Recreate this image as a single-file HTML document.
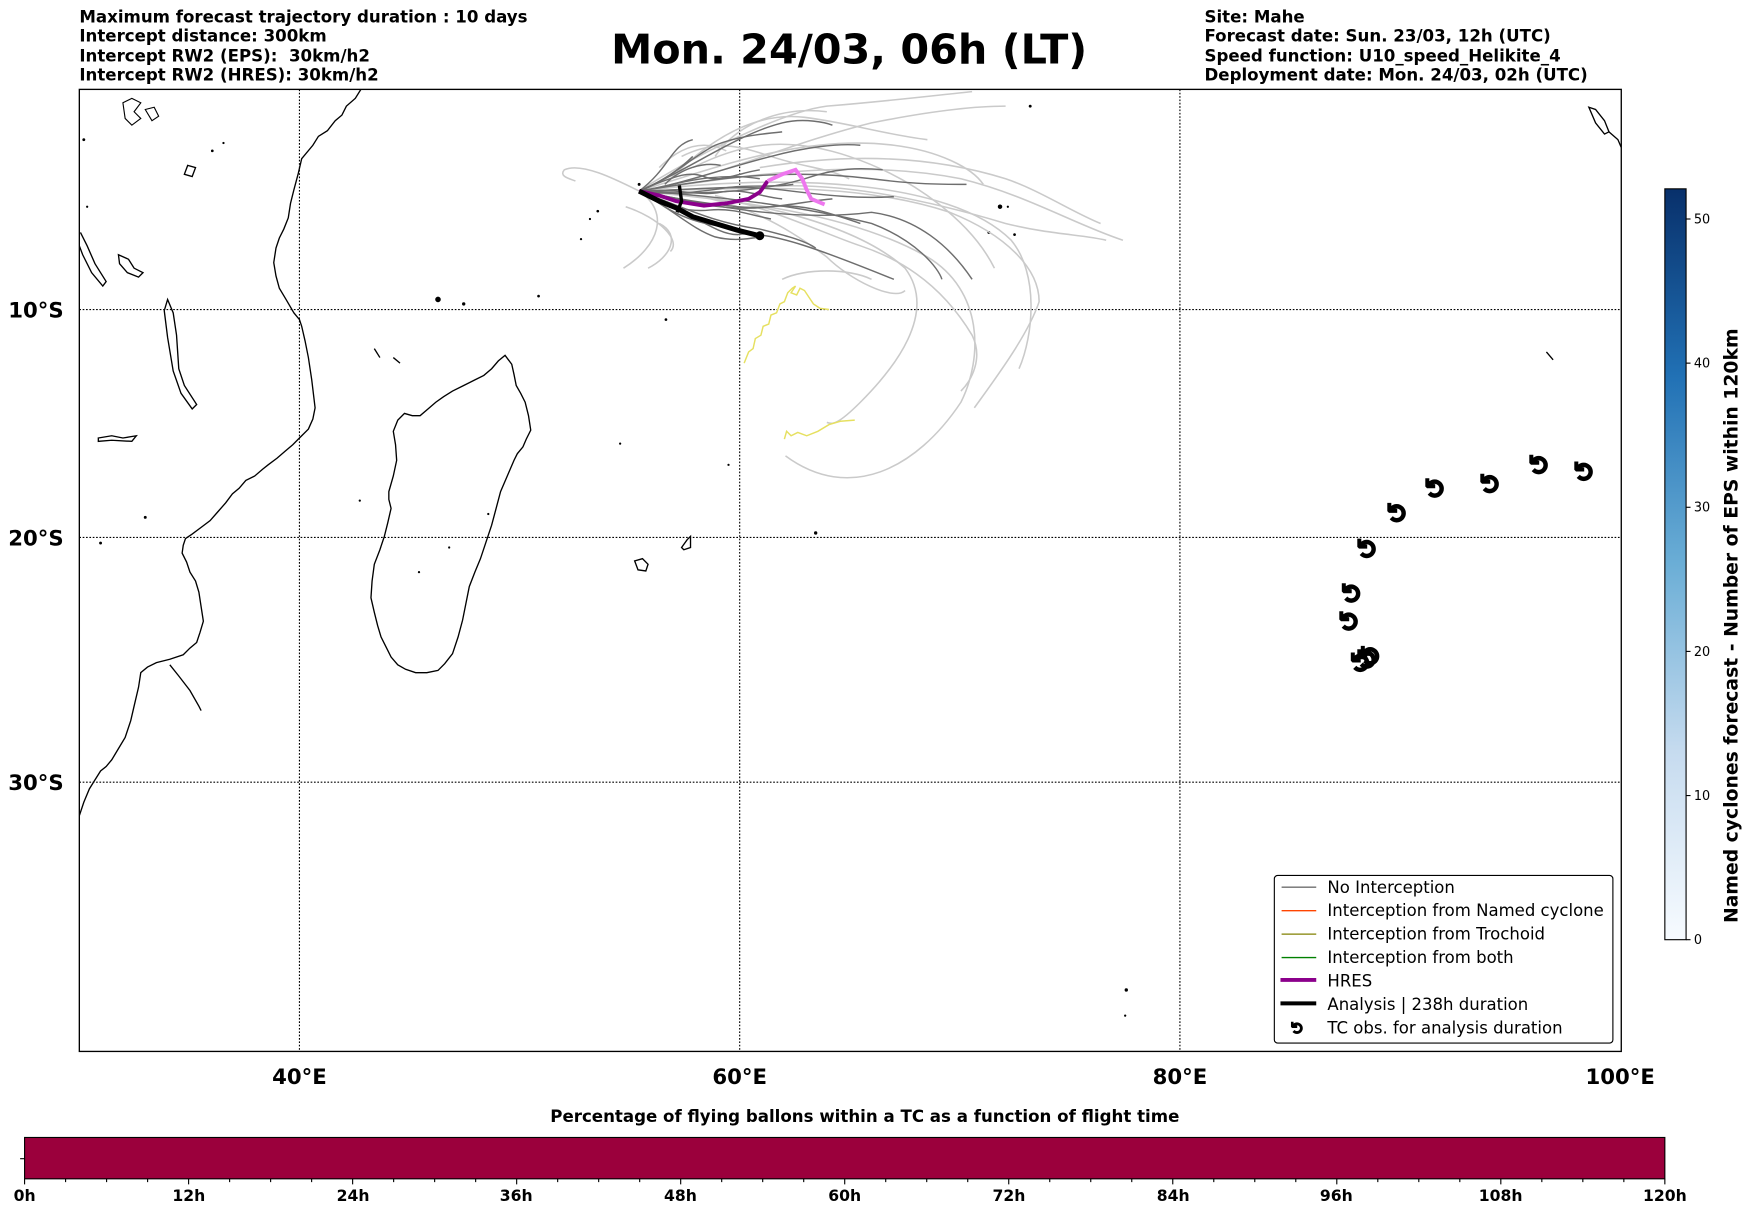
<!DOCTYPE html>
<html><head><meta charset="utf-8"><style>
html,body{margin:0;padding:0;background:#fff;}
svg{display:block;}
text{font-family:"DejaVu Sans","Liberation Sans",sans-serif;}
</style></head><body>
<svg width="1752" height="1213" viewBox="0 0 1568 1085.6" preserveAspectRatio="none" xmlns="http://www.w3.org/2000/svg">
<defs>
<linearGradient id="blues" x1="0" y1="1" x2="0" y2="0">
<stop offset="0" stop-color="#f7fbff"/><stop offset="0.25" stop-color="#c6dbef"/><stop offset="0.5" stop-color="#6baed6"/><stop offset="0.75" stop-color="#2171b5"/><stop offset="1" stop-color="#08306b"/>
</linearGradient>
<clipPath id="mc"><rect x="71" y="80" width="1380" height="861"/></clipPath>
</defs>
<!-- header -->
<g font-weight="bold" font-size="14.9" fill="#000">
<text x="71" y="20">Maximum forecast trajectory duration : 10 days</text>
<text x="71" y="37">Intercept distance: 300km</text>
<text x="71" y="55" xml:space="preserve">Intercept RW2 (EPS):  30km/h2</text>
<text x="71" y="72">Intercept RW2 (HRES): 30km/h2</text>
<text x="1078" y="20">Site: Mahe</text>
<text x="1078" y="37">Forecast date: Sun. 23/03, 12h (UTC)</text>
<text x="1078" y="55">Speed function: U10_speed_Helikite_4</text>
<text x="1078" y="72">Deployment date: Mon. 24/03, 02h (UTC)</text>
</g>
<text x="760" y="57" text-anchor="middle" font-weight="bold" font-size="37">Mon. 24/03, 06h (LT)</text>

<g clip-path="url(#mc)">
<!-- grid -->
<g stroke="#000" stroke-width="1" stroke-dasharray="1.5,1.5">
<line x1="268" y1="80" x2="268" y2="941"/><line x1="662" y1="80" x2="662" y2="941"/><line x1="1056" y1="80" x2="1056" y2="941"/>
<line x1="71" y1="277" x2="1451" y2="277"/><line x1="71" y1="481" x2="1451" y2="481"/><line x1="71" y1="700" x2="1451" y2="700"/>
</g>
<!-- coastlines -->
<g fill="none" stroke="#000" stroke-width="1.2">
<path d="M323,80 L318,88 310,95 306,103 300,108 293,117 285,122 280,130 270,142 267,155 263,170 260,182 258,195 254,205 250,213 247,222 245,235 247,247 250,258 256,268 263,280 268,286 270,292 273,305 276,320 279,340 282,365 280,375 276,384 268,392 262,398 255,404 248,410 240,416 235,420 228,426 220,430 214,437 208,442 202,450 195,458 188,466 180,472 172,478 166,482 164,488 163,495 167,503 170,512 175,520 178,530 180,543 182,556 179,566 176,575 170,580 164,586 152,590 140,593 132,597 126,602 124,615 120,632 117,645 112,660 106,670 100,680 95,686 90,690 85,698 80,706 75,718 71,730"/>
<path d="M452,318 L458,326 460,335 462,345 466,352 470,360 473,372 475,385 471,393 468,400 463,406 460,412 454,426 448,440 444,455 440,470 435,485 430,500 425,512 420,525 417,540 414,555 410,570 405,585 398,594 392,600 382,602 372,602 363,599 356,595 350,588 346,580 341,570 338,560 335,548 332,535 333,520 335,505 340,492 344,480 347,468 350,455 348,447 348,440 352,426 355,412 354,398 352,386 356,376 362,370 369,372 376,372 383,366 390,360 397,355 405,350 415,345 425,340 433,336 440,330 446,323 452,318Z"/>
<path d="M150,268 L155,280 158,300 160,330 165,345 176,362 172,366 162,352 155,332 150,302 147,278Z"/>
<path d="M72,208 L78,220 85,236 95,252 92,256 82,244 74,228 71,220"/>
<path d="M106,228 L115,232 120,240 128,244 124,248 114,244 107,236Z"/>
<path d="M110,92 L118,88 126,92 120,100 126,106 118,112 112,106Z" stroke-width="1"/>
<path d="M130,98 L138,96 142,104 136,108Z" stroke-width="1"/>
<path d="M88,392 L100,390 110,392 122,390 118,395 100,394 88,395Z"/>
<path d="M152,595 L160,605 170,618 178,632 180,636"/>
<path d="M568,502 L575,500 580,505 578,511 571,510Z"/>
<path d="M610,490 L615,483 618,480 618,490 612,492Z"/>
<path d="M1422,96 L1428,98 1436,108 1440,118 1436,120 1428,110Z"/>
<path d="M1440,118 L1448,125 1451,132"/>
<path d="M1384,315 L1390,322"/>
<path d="M335,312 L340,320"/><path d="M352,320 L358,325"/>
<path d="M168,148 L175,150 172,158 165,156Z"/>
</g>
<g fill="#000">
<circle cx="392" cy="268" r="2.5"/><circle cx="415" cy="272" r="1.5"/><circle cx="482" cy="265" r="1.2"/><circle cx="596" cy="286" r="1.2"/>
<circle cx="895" cy="185" r="2"/><circle cx="902" cy="185" r="1"/><circle cx="885" cy="208" r="1.3"/><circle cx="908" cy="210" r="1.2"/><circle cx="922" cy="95" r="1.3"/>
<circle cx="730" cy="477" r="1.5"/><circle cx="555" cy="397" r="1"/><circle cx="652" cy="416" r="1"/>
<circle cx="1008" cy="886" r="1.5"/><circle cx="1007" cy="909" r="1"/><circle cx="90" cy="486" r="1.3"/><circle cx="130" cy="463" r="1.3"/>
<circle cx="535" cy="189" r="1.2"/><circle cx="528" cy="196" r="1"/><circle cx="520" cy="214" r="1"/><circle cx="572" cy="165" r="1.3"/>
<circle cx="322" cy="448" r="1"/><circle cx="402" cy="490" r="1"/><circle cx="437" cy="460" r="1"/><circle cx="375" cy="512" r="1"/>
<circle cx="75" cy="125" r="1.3"/><circle cx="78" cy="185" r="1"/><circle cx="190" cy="135" r="1.2"/><circle cx="200" cy="128" r="1"/>
</g>

<!-- light trajectories -->
<g fill="none" stroke="#cacaca" stroke-width="1.4">
<path d="M572,171 C550,160 520,145 505,152 C500,158 510,160 515,162"/>
<path d="M572,171 C620,140 700,100 740,95 C800,90 840,85 870,82"/>
<path d="M572,171 C640,150 720,120 800,130 C840,135 870,150 880,165"/>
<path d="M572,171 C650,160 760,140 860,160 C920,175 960,200 1005,215"/>
<path d="M572,171 C650,170 760,160 850,190 C900,210 930,240 930,270 C920,300 890,340 872,365"/>
<path d="M572,171 C660,180 760,190 830,230 C880,260 880,320 860,360 C820,420 760,450 703,408"/>
<path d="M572,171 C650,175 760,195 810,240 C840,280 800,330 770,360 C750,380 745,380 740,378"/>
<path d="M572,171 C600,190 590,220 558,240"/>
<path d="M572,171 C700,155 850,160 905,215 C930,245 925,300 912,330"/>
<path d="M572,171 C640,160 700,130 780,110 C830,100 870,95 900,95"/>
<path d="M572,171 C650,170 700,200 740,230 C760,250 800,270 810,260"/>
<path d="M600,160 C640,120 680,100 720,105 C760,110 790,120 830,125"/>
<path d="M620,150 C660,130 700,120 760,140 C820,160 870,200 890,240"/>
<path d="M640,175 C700,190 740,210 770,220 C800,230 840,250 870,300 C880,320 870,340 860,350"/>
<path d="M660,170 C720,160 800,170 900,200 C940,210 970,210 990,215"/>
<path d="M680,150 C740,140 820,135 900,160 C930,170 960,190 985,200"/>
<path d="M590,200 C610,210 600,230 580,240"/>
<path d="M640,140 C660,110 700,95 740,100"/>
<path d="M560,185 C590,195 610,215 600,225"/>
<path d="M700,250 C720,240 760,240 780,250"/>
<path d="M590,150 C610,130 630,125 650,135"/>
<path d="M610,140 C640,125 660,130 690,140 C720,150 740,150 760,160"/>
</g>
<!-- dark trajectories -->
<g fill="none" stroke="#6e6e6e" stroke-width="1.3">
<path d="M572,171 C640,175 720,185 780,200 C820,215 840,240 843,250"/>
<path d="M572,171 C620,180 700,200 780,190 C820,195 850,220 870,250"/>
<path d="M572,171 C620,150 660,120 700,110 C720,105 740,110 745,112"/>
<path d="M572,171 C600,150 600,130 620,125"/>
<path d="M572,171 C640,160 700,150 780,160 C820,165 840,165 865,165"/>
<path d="M572,171 C620,190 640,210 660,210 C690,205 750,230 800,250"/>
<path d="M572,171 C610,165 650,150 690,140 C720,132 750,128 770,130"/>
<path d="M572,171 C620,170 660,165 700,170 C740,175 770,178 800,176"/>
<path d="M572,171 C610,180 650,190 690,185 C720,182 740,190 770,200"/>
<path d="M572,171 C600,160 620,140 640,130 C660,122 680,120 700,118"/>
<path d="M572,171 C590,165 610,150 620,140"/>
<path d="M572,171 C610,185 640,200 680,205 C700,210 720,215 730,222"/>
<path d="M572,171 C620,175 680,172 720,160 C750,150 770,150 790,152"/>
<path d="M580,175 C600,190 620,200 650,203"/>
<path d="M590,168 C620,160 650,155 680,160"/>
<path d="M572,171 C600,175 625,172 650,168 C670,165 690,168 710,165"/>
<path d="M572,171 C605,178 630,182 660,185 C690,188 720,180 745,178"/>
<path d="M575,173 C600,185 615,190 635,188 C655,186 670,192 690,196"/>
<path d="M578,168 C600,160 615,152 630,158 C645,164 660,155 680,152"/>
<path d="M585,172 C605,168 625,176 645,172 C665,168 680,176 700,178"/>
<path d="M580,176 C605,190 620,205 640,212 C655,216 670,214 680,212"/>
<path d="M595,165 C610,150 630,145 645,148"/>
</g>
<!-- yellow -->
<g fill="none" stroke="#e6e060" stroke-width="1.3">
<path d="M666,325 L670,315 674,312 676,303 681,300 683,292 688,290 690,282 695,280 698,272 702,270 705,262 709,258 712,256 708,262 713,264 716,258 720,260 724,266 728,272 734,276 742,277"/>
<path d="M702,393 L704,386 708,390 714,387 722,390 732,386 742,380 752,377 765,376"/>
</g>
<!-- HRES -->
<path d="M572,171 L590,175 605,180 630,184 650,182 670,178 680,172 687,162" fill="none" stroke="#8b008b" stroke-width="3.5"/>
<path d="M687,162 L700,156 712,152 718,160 722,170 726,178 738,183" fill="none" stroke="#ee77ee" stroke-width="3.5"/>
<!-- Analysis -->
<path d="M572,171 L590,180 605,186 620,194 640,200 660,206 680,211" fill="none" stroke="#000" stroke-width="4.5" stroke-linejoin="round"/>
<path d="M608,166 L610,180 606,190" fill="none" stroke="#000" stroke-width="3"/>
<circle cx="680" cy="211" r="4" fill="#000"/>
<!-- TC symbols -->
<g font-size="24" font-weight="bold" text-anchor="middle" fill="#000" stroke="#000" stroke-width="1.2">
<text transform="translate(1216,556) rotate(-90)">↺</text>
<text transform="translate(1218,531) rotate(-90)">↺</text>
<text transform="translate(1232,491) rotate(-90)">↺</text>
<text transform="translate(1259,459) rotate(-90)">↺</text>
<text transform="translate(1293,437) rotate(-90)">↺</text>
<text transform="translate(1342,433) rotate(-90)">↺</text>
<text transform="translate(1386,416) rotate(-90)">↺</text>
<text transform="translate(1426,422) rotate(-90)">↺</text>
<text transform="translate(1226,593) rotate(-90)">↺</text>
<text transform="translate(1232,590) rotate(-90)">↺</text>
<text transform="translate(1235,587) rotate(-90)">↺</text>
</g>
</g>
<rect x="71" y="80" width="1380" height="861" fill="none" stroke="#000" stroke-width="1.2"/>

<!-- axis labels -->
<g font-weight="bold" font-size="19" fill="#000">
<text x="57" y="284" text-anchor="end">10°S</text>
<text x="57" y="488" text-anchor="end">20°S</text>
<text x="57" y="707" text-anchor="end">30°S</text>
<text x="268" y="970" text-anchor="middle">40°E</text>
<text x="662" y="970" text-anchor="middle">60°E</text>
<text x="1056" y="970" text-anchor="middle">80°E</text>
<text x="1450" y="970" text-anchor="middle">100°E</text>
</g>

<!-- legend -->
<rect x="1140.5" y="783.5" width="303" height="150" rx="3" fill="#fff" stroke="#000" stroke-width="1"/>
<g stroke-width="1.2">
<line x1="1147" y1="794" x2="1178" y2="794" stroke="#6e6e6e"/>
<line x1="1147" y1="815" x2="1178" y2="815" stroke="#ff4500"/>
<line x1="1147" y1="836" x2="1178" y2="836" stroke="#808000"/>
<line x1="1147" y1="857" x2="1178" y2="857" stroke="#008000"/>
<line x1="1146" y1="877" x2="1178" y2="877" stroke="#8b008b" stroke-width="3.5"/>
<line x1="1146" y1="898" x2="1178" y2="898" stroke="#000" stroke-width="3.5"/>
</g>
<text font-size="15" font-weight="bold" text-anchor="middle" stroke="#000" stroke-width="0.8" transform="translate(1166,920) rotate(-90)">↺</text>
<g font-size="14.8" fill="#000">
<text x="1188" y="799">No Interception</text>
<text x="1188" y="820">Interception from Named cyclone</text>
<text x="1188" y="841">Interception from Trochoid</text>
<text x="1188" y="862">Interception from both</text>
<text x="1188" y="883">HRES</text>
<text x="1188" y="904">Analysis | 238h duration</text>
<text x="1188" y="925">TC obs. for analysis duration</text>
</g>

<!-- right colorbar -->
<rect x="1490" y="169" width="19" height="672" fill="url(#blues)" stroke="#000" stroke-width="1"/>
<g stroke="#000" stroke-width="1">
<line x1="1509" y1="841" x2="1513" y2="841"/><line x1="1509" y1="712" x2="1513" y2="712"/><line x1="1509" y1="583" x2="1513" y2="583"/>
<line x1="1509" y1="454" x2="1513" y2="454"/><line x1="1509" y1="325" x2="1513" y2="325"/><line x1="1509" y1="196" x2="1513" y2="196"/>
</g>
<g font-size="11.5" fill="#000">
<text x="1516" y="845">0</text><text x="1516" y="716">10</text><text x="1516" y="587">20</text>
<text x="1516" y="458">30</text><text x="1516" y="329">40</text><text x="1516" y="200">50</text>
</g>
<text transform="translate(1555,560) rotate(-90)" text-anchor="middle" font-size="16.8" font-weight="bold" fill="#000">Named cyclones forecast - Number of EPS within 120km</text>

<!-- bottom colorbar -->
<text x="774" y="1004" text-anchor="middle" font-size="14.9" font-weight="bold">Percentage of flying ballons within a TC as a function of flight time</text>
<rect x="22" y="1018" width="1468" height="37" fill="#9b003c" stroke="#000" stroke-width="1"/>
<line x1="18" y1="1037" x2="22" y2="1037" stroke="#000"/>
<g stroke="#000" stroke-width="1">
<path d="M22,1055v5M58.7,1055v3M95.4,1055v3M132.1,1055v3M168.8,1055v5M205.5,1055v3M242.2,1055v3M278.9,1055v3M315.6,1055v5M352.3,1055v3M389,1055v3M425.7,1055v3M462.4,1055v5M499.1,1055v3M535.8,1055v3M572.5,1055v3M609.2,1055v5M645.9,1055v3M682.6,1055v3M719.3,1055v3M756,1055v5M792.7,1055v3M829.4,1055v3M866.1,1055v3M902.8,1055v5M939.5,1055v3M976.2,1055v3M1012.9,1055v3M1049.6,1055v5M1086.3,1055v3M1123,1055v3M1159.7,1055v3M1196.4,1055v5M1233.1,1055v3M1269.8,1055v3M1306.5,1055v3M1343.2,1055v5M1379.9,1055v3M1416.6,1055v3M1453.3,1055v3M1490,1055v5"/>
</g>
<g font-size="14" font-weight="bold" text-anchor="middle">
<text x="22" y="1075">0h</text><text x="169" y="1075">12h</text><text x="316" y="1075">24h</text><text x="462" y="1075">36h</text>
<text x="609" y="1075">48h</text><text x="756" y="1075">60h</text><text x="903" y="1075">72h</text><text x="1050" y="1075">84h</text>
<text x="1196" y="1075">96h</text><text x="1343" y="1075">108h</text><text x="1490" y="1075">120h</text>
</g>
</svg>
</body></html>
